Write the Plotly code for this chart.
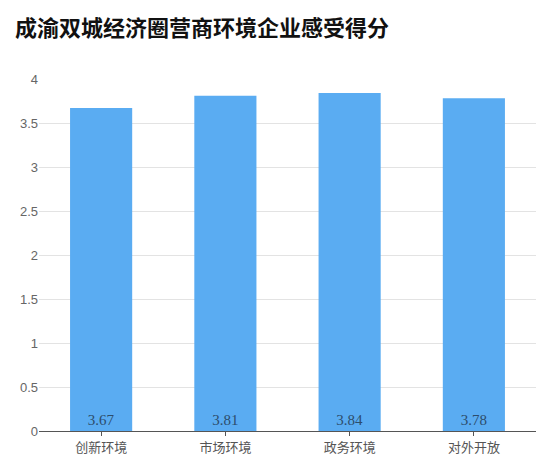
import plotly.graph_objects as go

# 数据
categories = ["创新环境", "市场环境", "政务环境", "对外开放"]
scores = [3.67, 3.81, 3.84, 3.78]
y_ticks = [0, 0.5, 1, 1.5, 2, 2.5, 3, 3.5, 4]
y_tick_text = ["0", "0.5", "1", "1.5", "2", "2.5", "3", "3.5", "4"]

title = "成渝双城经济圈营商环境企业感受得分"

fig = go.Figure()
fig.add_trace(go.Bar(
    x=categories,
    y=scores,
    text=[f"{v:.2f}" for v in scores],
    textposition="inside",
    insidetextanchor="start",
    textangle=0,
    textfont=dict(family="Liberation Serif, Noto Sans CJK SC", size=15, color="#2d4d6c"),
    marker=dict(color="#5aacf2", line=dict(width=0)),
    hoverinfo="x+y",
))

fig.update_layout(
    width=550,
    height=468,
    margin=dict(l=39, r=14, t=79, b=31),
    paper_bgcolor="white",
    plot_bgcolor="white",
    bargap=0.5,
    showlegend=False,
    title=dict(
        text="<b>" + title + "</b>",
        x=15 / 550,
        xanchor="left",
        y=1 - 28 / 468,
        yanchor="middle",
        font=dict(family="Noto Sans CJK SC", size=22, color="#111111"),
    ),
    font=dict(family="Noto Sans CJK SC"),
)

fig.update_xaxes(
    showline=True,
    linecolor="#555555",
    linewidth=1,
    ticks="outside",
    ticklen=4,
    tickcolor="#555555",
    showgrid=False,
    tickfont=dict(family="Noto Sans CJK SC", size=13, color="#555555"),
)

fig.update_yaxes(
    range=[0, 4],
    tickvals=y_ticks,
    ticktext=y_tick_text,
    showgrid=True,
    gridcolor="#e3e3e3",
    gridwidth=1,
    zeroline=False,
    showline=False,
    ticks="",
    tickfont=dict(family="Liberation Sans, Roboto", size=13, color="#666666"),
)

# 去掉页面默认的 8px 边距, 不显示工具栏
fig.write_html("out.html", config={"displayModeBar": False},
               post_script="document.body.style.margin='0';")
